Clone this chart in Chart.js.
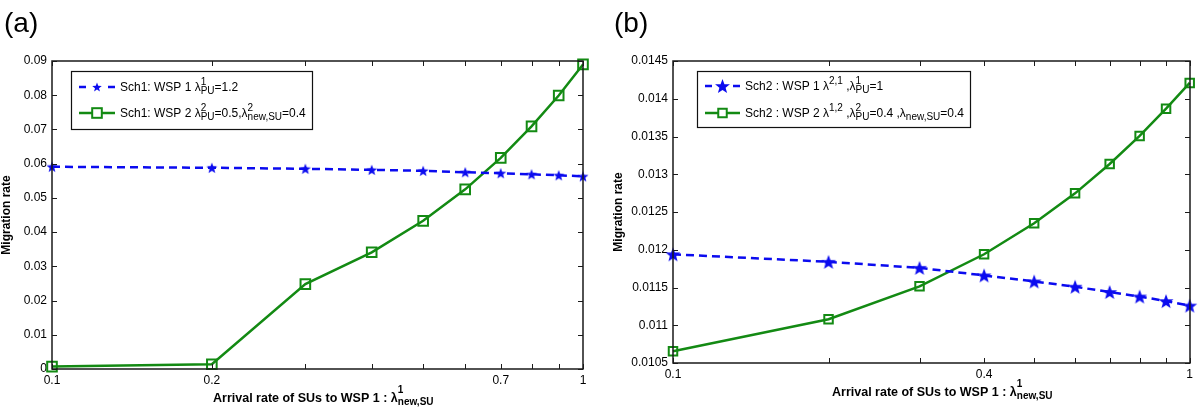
<!DOCTYPE html>
<html>
<head>
<meta charset="utf-8">
<script src="https://cdn.jsdelivr.net/npm/chart.js@4/dist/chart.umd.min.js"></script>
<style>
  html, body { margin: 0; padding: 0; background: #fff; }
  #wrap { display: flex; width: 1200px; height: 410px; }
  canvas { display: block; }
</style>
</head>
<body>
<div id="wrap">
  <canvas id="chartA" width="600" height="410"></canvas>
  <canvas id="chartB" width="600" height="410"></canvas>
</div>
<script>
// arrival rate of SUs to WSP 1 (x values, log axis)
const arrivalRates = [0.1, 0.2, 0.3, 0.4, 0.5, 0.6, 0.7, 0.8, 0.9, 1];

// panel (a) - scheme 1
const sch1Wsp1 = [0.0591, 0.0588, 0.0585, 0.0582, 0.0579, 0.0575, 0.0572, 0.0569, 0.0566, 0.0563];
const sch1Wsp2 = [0.0007, 0.0014, 0.0248, 0.0341, 0.0433, 0.0525, 0.0617, 0.0709, 0.0799, 0.0890];

// panel (b) - scheme 2
const sch2Wsp1 = [0.01194, 0.01184, 0.01176, 0.01166, 0.01158, 0.01151, 0.01144, 0.01138, 0.01132, 0.01126];
const sch2Wsp2 = [0.010655, 0.01108, 0.011515, 0.01194, 0.01235, 0.012747, 0.013136, 0.013507, 0.013869, 0.014209];

// tick values and labels
const xTickValues = [0.1, 0.2, 0.3, 0.4, 0.5, 0.6, 0.7, 0.8, 0.9, 1];
const xLabelsA = [0.1, 0.2, 0.7, 1];
const xLabelsB = [0.1, 0.4, 1];
const yTicksA = [0, 0.01, 0.02, 0.03, 0.04, 0.05, 0.06, 0.07, 0.08, 0.09];
const yTicksB = [0.0105, 0.011, 0.0115, 0.012, 0.0125, 0.013, 0.0135, 0.014, 0.0145];

// legend texts (^{..} superscript, _{..} subscript)
const legendA = ["Sch1: WSP 1 λ^{1}_{PU}=1.2", "Sch1: WSP 2 λ^{2}_{PU}=0.5,λ^{2}_{new,SU}=0.4"];
const legendB = ["Sch2 : WSP 1 λ^{2,1} ,λ^{1}_{PU}=1", "Sch2 : WSP 2 λ^{1,2} ,λ^{2}_{PU}=0.4 ,λ_{new,SU}=0.4"];
const xTitle = "Arrival rate of SUs to WSP 1 : λ^{1}_{new,SU}";
const yTitle = "Migration rate";

const FONT = '"Liberation Sans", Arial, Helvetica, sans-serif';
const BLUE = '#0b0bef';
const GREEN = '#138a13';

function starPath(ctx, cx, cy, r) {
    const inner = r * 0.42;
    ctx.beginPath();
    for (let i = 0; i < 10; i++) {
        const rad = i % 2 === 0 ? r : inner;
        const a = -Math.PI / 2 + i * Math.PI / 5;
        const px = cx + rad * Math.cos(a), py = cy + rad * Math.sin(a);
        if (i === 0) ctx.moveTo(px, py); else ctx.lineTo(px, py);
    }
    ctx.closePath();
}

function makeStar(r, color) {
    const c = document.createElement('canvas');
    const s = Math.ceil(2 * r + 2);
    c.width = s; c.height = s;
    const g = c.getContext('2d');
    g.fillStyle = color;
    starPath(g, s / 2, s / 2 + r * 0.1, r);
    g.fill();
    return c;
}

// draws text with stacked super/subscripts, y is the baseline
function drawRich(ctx, str, x, y, o) {
    const re = /\^\{([^}]*)\}|_\{([^}]*)\}|[^^_]+/g;
    const w0 = o.bold ? 'bold ' : '';
    const base = w0 + o.size + 'px ' + FONT;
    const small = w0 + o.small + 'px ' + FONT;
    ctx.textAlign = 'left';
    ctx.textBaseline = 'alphabetic';
    let m, prev = null;
    while ((m = re.exec(str))) {
        if (m[1] !== undefined || m[2] !== undefined) {
            const isSup = m[1] !== undefined;
            const t = isSup ? m[1] : m[2];
            ctx.font = small;
            const w = ctx.measureText(t).width;
            const stacked = prev && prev.sup !== isSup;
            const sx = stacked ? prev.x : x;
            ctx.fillText(t, sx, y + (isSup ? o.supDy : o.subDy));
            if (stacked) { x = sx + Math.max(w, prev.w); prev = null; }
            else { x = sx + w; prev = { sup: isSup, x: sx, w: w }; }
        } else {
            ctx.font = base;
            ctx.fillText(m[0], x, y);
            x += ctx.measureText(m[0]).width;
            prev = null;
        }
    }
}

const panelDecor = {
    id: 'panelDecor',
    afterDraw(chart, args, opts) {
        const ctx = chart.ctx;
        const a = chart.chartArea;
        const xs = chart.scales.x, ys = chart.scales.y;
        ctx.save();
        ctx.setLineDash([]);

        // axes box with inward ticks on all four sides
        const L0 = Math.round(a.left), R0 = Math.round(a.right);
        const T0 = Math.round(a.top), B0 = Math.round(a.bottom);
        ctx.strokeStyle = '#1a1a1a';
        ctx.lineWidth = 1.5;
        ctx.beginPath();
        ctx.rect(L0, T0, R0 - L0, B0 - T0);
        ctx.stroke();
        ctx.lineWidth = 1;
        ctx.beginPath();
        const tl = 5;
        xs.ticks.forEach(t => {
            const px = Math.round(xs.getPixelForValue(t.value)) + 0.5;
            ctx.moveTo(px, B0); ctx.lineTo(px, B0 - tl);
            ctx.moveTo(px, T0); ctx.lineTo(px, T0 + tl);
        });
        ys.ticks.forEach(t => {
            const py = Math.round(ys.getPixelForValue(t.value)) + 0.5;
            ctx.moveTo(L0, py); ctx.lineTo(L0 + tl, py);
            ctx.moveTo(R0, py); ctx.lineTo(R0 - tl, py);
        });
        ctx.stroke();

        ctx.fillStyle = '#000';
        // panel tag
        ctx.font = '28px ' + FONT;
        ctx.textAlign = 'left';
        ctx.textBaseline = 'alphabetic';
        ctx.fillText(opts.tag, opts.tagX, 32);
        // y title
        ctx.save();
        ctx.translate(opts.yTitleX, opts.yTitleY);
        ctx.rotate(-Math.PI / 2);
        ctx.font = 'bold 12px ' + FONT;
        ctx.textAlign = 'center';
        ctx.textBaseline = 'middle';
        ctx.fillText(yTitle, 0, 0);
        ctx.restore();
        // x title
        drawRich(ctx, xTitle, opts.xTitleX, opts.xTitleY,
            { size: 12.5, small: 10, bold: true, supDy: -9, subDy: 3 });

        // legend
        const L = opts.legend;
        ctx.fillStyle = '#fff';
        ctx.fillRect(L.x, L.y, L.w, L.h);
        ctx.strokeStyle = '#111';
        ctx.lineWidth = 1.2;
        ctx.strokeRect(L.x + 0.5, L.y + 0.5, L.w, L.h);
        const mid = (L.x0 + L.x1) / 2;
        // blue dashed entry
        let yy = L.rows[0];
        ctx.strokeStyle = BLUE;
        ctx.lineWidth = 2.5;
        ctx.beginPath();
        ctx.moveTo(L.x0, yy); ctx.lineTo(L.x0 + 7, yy);
        ctx.moveTo(L.x1 - 7, yy); ctx.lineTo(L.x1, yy);
        ctx.stroke();
        ctx.fillStyle = BLUE;
        starPath(ctx, mid, yy + opts.starR * 0.1, opts.starR);
        ctx.fill();
        // green solid entry
        yy = L.rows[1];
        ctx.strokeStyle = GREEN;
        ctx.beginPath();
        ctx.moveTo(L.x0, yy); ctx.lineTo(L.x1, yy);
        ctx.stroke();
        const hs = opts.sqR * Math.SQRT1_2;
        ctx.lineWidth = 2;
        ctx.fillStyle = '#fff';
        ctx.fillRect(mid - hs, yy - hs, 2 * hs, 2 * hs);
        ctx.strokeRect(mid - hs, yy - hs, 2 * hs, 2 * hs);
        ctx.fillStyle = '#000';
        opts.legendText.forEach((t, i) => {
            drawRich(ctx, t, L.tx, L.rows[i] + 4,
                { size: 12, small: 10, bold: false, supDy: -6, subDy: 3 });
        });
        ctx.restore();
    }
};

function buildChart(id, p) {
    const pts = arr => arrivalRates.map((x, i) => ({ x: x, y: arr[i] }));
    return new Chart(document.getElementById(id).getContext('2d'), {
        type: 'line',
        data: {
            datasets: [
                {
                    data: pts(p.wsp1),
                    borderColor: BLUE,
                    borderWidth: 2.5,
                    borderDash: [8, 5],
                    pointStyle: makeStar(p.starR, BLUE),
                    pointRadius: p.starR,
                    clip: false,
                    tension: 0
                },
                {
                    data: pts(p.wsp2),
                    borderColor: GREEN,
                    borderWidth: 2.5,
                    pointStyle: 'rect',
                    pointRadius: p.sqR,
                    pointBorderWidth: 2,
                    pointBorderColor: GREEN,
                    pointBackgroundColor: 'rgba(0,0,0,0)',
                    clip: false,
                    tension: 0
                }
            ]
        },
        options: {
            responsive: false,
            animation: false,
            devicePixelRatio: 1,
            layout: { padding: { left: 0, top: p.area.top, right: 600 - p.area.right, bottom: 0 } },
            scales: {
                x: {
                    type: 'logarithmic',
                    min: 0.1,
                    max: 1,
                    afterBuildTicks: s => { s.ticks = xTickValues.map(v => ({ value: v })); },
                    afterFit: s => { s.height = 410 - p.area.bottom; },
                    grid: { display: false, drawTicks: false },
                    border: { display: false },
                    ticks: {
                        autoSkip: false,
                        maxRotation: 0,
                        padding: 4,
                        color: '#000',
                        font: { family: FONT, size: 12 },
                        callback: v => p.xLabels.includes(v) ? String(v) : ''
                    }
                },
                y: {
                    type: 'linear',
                    min: p.yTicks[0],
                    max: p.yTicks[p.yTicks.length - 1],
                    afterBuildTicks: s => { s.ticks = p.yTicks.map(v => ({ value: v })); },
                    afterFit: s => { s.width = p.area.left; },
                    grid: { display: false, drawTicks: false },
                    border: { display: false },
                    ticks: {
                        padding: 5,
                        color: '#000',
                        font: { family: FONT, size: 12 },
                        callback: v => String(+v.toFixed(4))
                    }
                }
            },
            plugins: {
                legend: { display: false },
                tooltip: { enabled: false },
                panelDecor: p.decor
            }
        },
        plugins: [panelDecor]
    });
}

buildChart('chartA', {
    wsp1: sch1Wsp1, wsp2: sch1Wsp2,
    xLabels: xLabelsA, yTicks: yTicksA,
    starR: 5.8, sqR: 6.8,
    area: { left: 52, top: 61, right: 583, bottom: 369 },
    decor: {
        tag: '(a)', tagX: 4,
        yTitleX: 7, yTitleY: 215,
        xTitleX: 213, xTitleY: 402,
        starR: 5, sqR: 6.8,
        legendText: legendA,
        legend: { x: 71, y: 71, w: 241, h: 58, rows: [87, 113], x0: 79, x1: 115, tx: 120 }
    }
});

buildChart('chartB', {
    wsp1: sch2Wsp1, wsp2: sch2Wsp2,
    xLabels: xLabelsB, yTicks: yTicksB,
    starR: 7.8, sqR: 6,
    area: { left: 73, top: 61, right: 595, bottom: 363 },
    decor: {
        tag: '(b)', tagX: 14,
        yTitleX: 19, yTitleY: 212,
        xTitleX: 232, xTitleY: 396,
        starR: 7.8, sqR: 6,
        legendText: legendB,
        legend: { x: 97, y: 71, w: 273, h: 56, rows: [86, 113], x0: 105, x1: 140, tx: 145 }
    }
});
</script>
</body>
</html>
